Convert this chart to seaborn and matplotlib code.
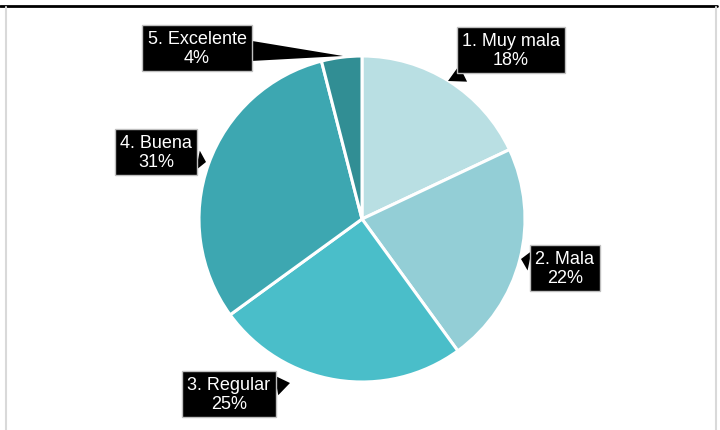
import matplotlib
matplotlib.use("Agg")
import matplotlib.pyplot as plt
from matplotlib.lines import Line2D
import seaborn as sns

# data
categories = ["1. Muy mala", "2. Mala", "3. Regular", "4. Buena", "5. Excelente"]
percentages = [18, 22, 25, 31, 4]
colors = ["#B9DFE3", "#93CED6", "#4ABEC9", "#3DA7B1", "#318E94"]

W, H = 720, 431

sns.set_theme(style="white")
plt.rcParams["font.family"] = ["Liberation Sans", "DejaVu Sans"]

fig = plt.figure(figsize=(W / 100, H / 100), dpi=100)
ax = fig.add_axes([0, 0, 1, 1])

palette = sns.color_palette(colors)
ax.pie(percentages, colors=palette, startangle=90, counterclock=False,
       center=(362, H - 220), radius=163,
       wedgeprops=dict(edgecolor="white", linewidth=2.2))
ax.set_xlim(0, W)
ax.set_ylim(0, H)
ax.set_aspect("equal")
ax.axis("off")

# callout positions in pixels: (box centre, pointer tip, wedge tail width)
callouts = [
    ((511, 51), (448, 82), 1.0),
    ((565, 269), (521, 260), 1.1),
    ((229, 395), (290, 384), 1.1),
    ((156, 153), (206, 163), 1.1),
    ((197, 49), (343, 57), 1.1),
]

for cat, pct, (box, tip, tw) in zip(categories, percentages, callouts):
    ax.annotate(f"{cat}\n{pct}%", xy=(tip[0], H - tip[1]),
                xytext=(box[0], H - box[1]),
                ha="center", va="center", multialignment="center",
                fontsize=13, color="white", linespacing=1.1,
                bbox=dict(boxstyle="square,pad=0.3", fc="black",
                          ec="#bfbfbf", lw=1),
                arrowprops=dict(arrowstyle=f"wedge,tail_width={tw}",
                                fc="black", ec="none", shrinkA=0, shrinkB=0))

# outer frame
fig.add_artist(Line2D([0, 717 / W], [1 - 6.5 / H, 1 - 6.5 / H],
                      transform=fig.transFigure, color="black", lw=2))
fig.add_artist(Line2D([6.5 / W, 6.5 / W], [0, 1 - 7.5 / H],
                      transform=fig.transFigure, color="#d9d9d9", lw=1.5))
fig.add_artist(Line2D([716 / W, 716 / W], [0, 1 - 7.5 / H],
                      transform=fig.transFigure, color="#d9d9d9", lw=1.5))

fig.savefig("out.png", dpi=100, facecolor="white")
